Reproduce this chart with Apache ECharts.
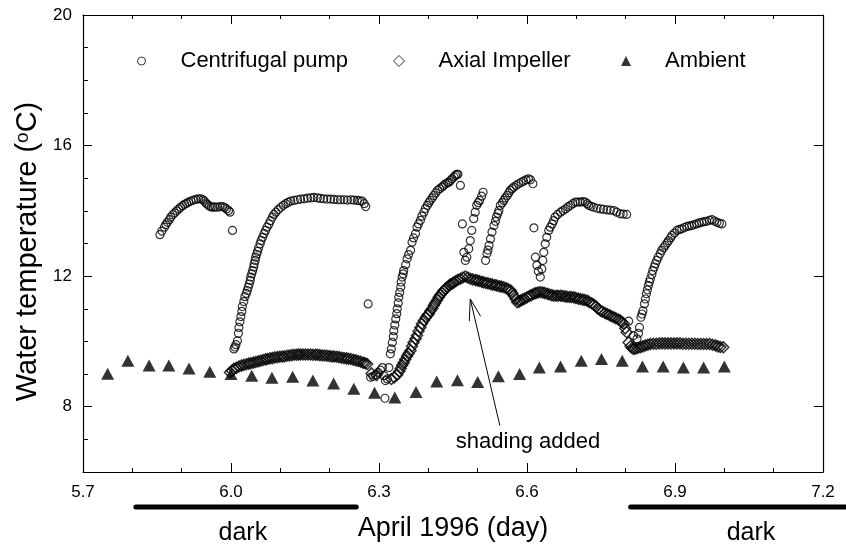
<!DOCTYPE html>
<html>
<head>
<meta charset="utf-8">
<script src="https://cdn.jsdelivr.net/npm/echarts@6/dist/echarts.min.js"></script>
<style>
  html, body { margin: 0; padding: 0; background: #fff; }
  #main { width: 846px; height: 547px; }
</style>
</head>
<body>
<div id="main"></div>
<script>
// Centrifugal pump runs, [day, temperature]
const pumpRun1 = [[5.856,13.27],[5.860,13.38],[5.865,13.50],[5.868,13.58],[5.871,13.65],[5.875,13.73],[5.878,13.81],[5.882,13.88],[5.886,13.94],[5.890,14.00],[5.894,14.06],[5.898,14.11],[5.902,14.16],[5.906,14.20],[5.910,14.23],[5.914,14.27],[5.919,14.30],[5.924,14.33],[5.929,14.35],[5.934,14.37],[5.939,14.37],[5.943,14.34],[5.946,14.30],[5.949,14.24],[5.952,14.20],[5.956,14.15],[5.960,14.12],[5.964,14.11],[5.968,14.12],[5.973,14.11],[5.978,14.13],[5.983,14.13],[5.987,14.10],[5.991,14.06],[5.995,14.01],[5.998,13.96],[6.003,13.40]];
const pumpRun2 = [[6.006,9.77],[6.008,9.83],[6.010,9.90],[6.013,10.02],[6.015,10.25],[6.016,10.43],[6.018,10.60],[6.020,10.76],[6.022,10.92],[6.023,11.07],[6.026,11.22],[6.028,11.37],[6.031,11.47],[6.033,11.56],[6.035,11.66],[6.037,11.76],[6.039,11.87],[6.040,11.97],[6.042,12.07],[6.044,12.17],[6.046,12.28],[6.047,12.38],[6.049,12.48],[6.050,12.58],[6.052,12.67],[6.054,12.76],[6.056,12.87],[6.059,12.99],[6.061,13.09],[6.064,13.19],[6.067,13.30],[6.070,13.40],[6.073,13.50],[6.077,13.60],[6.080,13.70],[6.084,13.81],[6.087,13.89],[6.091,13.96],[6.096,14.04],[6.101,14.11],[6.106,14.17],[6.111,14.22],[6.116,14.26],[6.121,14.30],[6.128,14.32],[6.135,14.34],[6.141,14.36],[6.148,14.37],[6.155,14.39],[6.162,14.40],[6.168,14.41],[6.175,14.40],[6.181,14.38],[6.188,14.37],[6.195,14.36],[6.202,14.36],[6.209,14.35],[6.216,14.34],[6.222,14.34],[6.229,14.34],[6.236,14.33],[6.243,14.34],[6.249,14.33],[6.256,14.32],[6.261,14.31],[6.266,14.30],[6.270,14.22],[6.273,14.13],[6.278,11.15]];
const pumpRun3 = [[6.283,8.90],[6.288,8.93],[6.293,8.98],[6.298,9.05],[6.303,9.12],[6.307,9.20],[6.310,8.95],[6.313,8.80],[6.312,8.26],[6.317,8.85],[6.320,9.20],[6.323,9.62],[6.325,9.77],[6.327,9.97],[6.329,10.15],[6.330,10.33],[6.332,10.50],[6.334,10.69],[6.336,10.85],[6.337,11.00],[6.339,11.18],[6.340,11.35],[6.342,11.50],[6.344,11.66],[6.345,11.82],[6.347,11.97],[6.349,12.07],[6.350,12.17],[6.354,12.35],[6.357,12.53],[6.360,12.66],[6.364,12.79],[6.367,13.04],[6.370,13.17],[6.374,13.30],[6.377,13.50],[6.380,13.60],[6.384,13.71],[6.387,13.84],[6.391,13.96],[6.394,14.07],[6.398,14.17],[6.401,14.25],[6.404,14.32],[6.408,14.40],[6.411,14.47],[6.415,14.55],[6.419,14.63],[6.423,14.68],[6.428,14.73],[6.431,14.78],[6.435,14.83],[6.439,14.86],[6.442,14.88],[6.445,14.93],[6.448,14.98],[6.452,15.04],[6.455,15.09],[6.458,15.12],[6.460,15.12],[6.465,14.78]];
const pumpRun4 = [[6.469,13.60],[6.472,12.73],[6.475,12.48],[6.478,12.58],[6.482,12.84],[6.485,13.09],[6.488,13.40],[6.492,13.76],[6.495,13.96],[6.498,14.17],[6.501,14.25],[6.504,14.32],[6.508,14.45],[6.511,14.57]];
const pumpRun5 = [[6.516,12.48],[6.519,12.69],[6.521,12.80],[6.523,12.94],[6.526,13.14],[6.529,13.35],[6.533,13.55],[6.536,13.68],[6.538,13.81],[6.541,13.92],[6.543,14.01],[6.546,14.17],[6.550,14.25],[6.553,14.32],[6.556,14.40],[6.560,14.47],[6.563,14.55],[6.566,14.63],[6.570,14.68],[6.573,14.73],[6.578,14.78],[6.583,14.83],[6.588,14.87],[6.593,14.91],[6.598,14.95],[6.603,14.98],[6.607,14.95],[6.612,14.83]];
const pumpRun6 = [[6.614,13.48],[6.617,12.58],[6.620,12.33],[6.623,12.15],[6.627,11.97],[6.630,12.22],[6.632,12.48],[6.634,12.73],[6.637,12.99],[6.640,13.19],[6.644,13.40],[6.647,13.50],[6.651,13.60],[6.654,13.70],[6.657,13.81],[6.662,13.89],[6.668,13.96],[6.673,14.01],[6.678,14.06],[6.683,14.12],[6.688,14.17],[6.693,14.22],[6.698,14.27],[6.703,14.27],[6.708,14.27],[6.713,14.28],[6.718,14.27],[6.722,14.22],[6.725,14.17],[6.730,14.14],[6.735,14.11],[6.742,14.08],[6.749,14.06],[6.755,14.05],[6.762,14.03],[6.769,14.02],[6.776,14.01],[6.782,13.96],[6.789,13.91],[6.795,13.90],[6.802,13.89]];
const pumpRun7 = [[6.806,10.62],[6.816,10.18],[6.823,10.08],[6.826,10.25],[6.828,10.43],[6.831,10.74],[6.833,10.84],[6.835,10.94],[6.838,11.15],[6.840,11.30],[6.842,11.46],[6.844,11.58],[6.846,11.71],[6.848,11.82],[6.850,11.92],[6.853,12.05],[6.855,12.17],[6.858,12.28],[6.860,12.38],[6.863,12.48],[6.866,12.58],[6.870,12.69],[6.873,12.79],[6.877,12.87],[6.880,12.94],[6.884,13.02],[6.887,13.09],[6.891,13.17],[6.894,13.25],[6.899,13.32],[6.904,13.40],[6.909,13.43],[6.914,13.45],[6.919,13.49],[6.924,13.52],[6.929,13.54],[6.934,13.55],[6.939,13.58],[6.944,13.60],[6.949,13.63],[6.954,13.65],[6.959,13.67],[6.964,13.68],[6.970,13.71],[6.975,13.73],[6.980,13.69],[6.985,13.65],[6.990,13.62],[6.995,13.60]];

// Axial impeller runs
const impRun1 = [[5.998,9.05],[6.002,9.10],[6.006,9.16],[6.011,9.19],[6.016,9.23],[6.021,9.26],[6.026,9.28],[6.031,9.30],[6.036,9.32],[6.040,9.33],[6.045,9.35],[6.050,9.37],[6.055,9.39],[6.060,9.41],[6.065,9.43],[6.070,9.45],[6.074,9.46],[6.079,9.48],[6.084,9.49],[6.089,9.51],[6.094,9.52],[6.099,9.53],[6.104,9.54],[6.108,9.54],[6.113,9.56],[6.118,9.57],[6.123,9.58],[6.128,9.59],[6.133,9.59],[6.137,9.60],[6.141,9.60],[6.146,9.60],[6.151,9.60],[6.156,9.60],[6.161,9.60],[6.166,9.59],[6.171,9.59],[6.175,9.59],[6.180,9.58],[6.185,9.57],[6.190,9.57],[6.195,9.56],[6.200,9.55],[6.205,9.54],[6.209,9.54],[6.214,9.53],[6.219,9.52],[6.224,9.50],[6.229,9.49],[6.234,9.48],[6.238,9.47],[6.243,9.46],[6.248,9.44],[6.253,9.42],[6.258,9.40],[6.263,9.38],[6.268,9.35],[6.272,9.33],[6.276,9.31]];
const impRun2 = [[6.285,9.02],[6.295,8.97],[6.325,8.85],[6.331,8.90],[6.337,8.98],[6.341,9.08],[6.344,9.17],[6.347,9.27],[6.350,9.35],[6.353,9.45],[6.357,9.55],[6.360,9.63],[6.364,9.72],[6.367,9.85],[6.370,9.97],[6.374,10.08],[6.377,10.18],[6.380,10.31],[6.384,10.43],[6.387,10.54],[6.391,10.64],[6.395,10.73],[6.398,10.80],[6.401,10.84],[6.404,10.93],[6.408,11.01],[6.411,11.10],[6.414,11.18],[6.418,11.27],[6.421,11.35],[6.424,11.42],[6.428,11.49],[6.431,11.56],[6.435,11.61],[6.438,11.66],[6.442,11.71],[6.445,11.75],[6.449,11.78],[6.452,11.81],[6.456,11.85],[6.460,11.89],[6.465,11.92],[6.470,11.96],[6.475,11.99],[6.480,11.96],[6.485,11.92],[6.490,11.90],[6.495,11.88],[6.499,11.87],[6.503,11.85],[6.508,11.83],[6.512,11.81],[6.517,11.79],[6.521,11.78],[6.526,11.76],[6.530,11.74],[6.535,11.73],[6.539,11.71],[6.544,11.69],[6.548,11.68],[6.553,11.66],[6.558,11.63],[6.562,11.60],[6.567,11.56],[6.570,11.48],[6.573,11.40],[6.577,11.30],[6.580,11.20],[6.584,11.22],[6.587,11.25],[6.591,11.28],[6.595,11.31],[6.600,11.35],[6.605,11.39],[6.609,11.42],[6.614,11.46],[6.618,11.48],[6.622,11.50],[6.627,11.51],[6.632,11.50],[6.636,11.48],[6.641,11.46],[6.645,11.44],[6.650,11.42],[6.654,11.40],[6.659,11.40],[6.663,11.40],[6.668,11.40],[6.672,11.39],[6.677,11.38],[6.681,11.37],[6.686,11.36],[6.690,11.36],[6.695,11.35],[6.699,11.33],[6.704,11.31],[6.708,11.30],[6.713,11.28],[6.717,11.27],[6.722,11.25],[6.726,11.21],[6.731,11.17],[6.735,11.13],[6.740,11.07],[6.744,11.00],[6.749,10.94],[6.753,10.91],[6.758,10.87],[6.762,10.84],[6.767,10.81],[6.771,10.77],[6.776,10.74],[6.780,10.71],[6.785,10.67],[6.789,10.64],[6.793,10.59],[6.796,10.54],[6.799,10.40],[6.802,10.28],[6.806,9.97]];
const impRun3 = [[6.810,9.85],[6.813,9.80],[6.816,9.77],[6.820,9.78],[6.825,9.80],[6.830,9.82],[6.835,9.85],[6.840,9.88],[6.845,9.90],[6.850,9.92],[6.856,9.93],[6.862,9.93],[6.868,9.94],[6.874,9.94],[6.880,9.94],[6.886,9.94],[6.892,9.94],[6.898,9.94],[6.904,9.94],[6.910,9.94],[6.916,9.93],[6.922,9.93],[6.928,9.93],[6.934,9.93],[6.940,9.93],[6.946,9.92],[6.952,9.92],[6.958,9.92],[6.964,9.92],[6.970,9.92],[6.976,9.90],[6.982,9.88],[6.987,9.85],[6.992,9.83],[6.998,9.82]];

// Ambient, hourly
const ambDay = [5.750,5.791,5.834,5.874,5.915,5.957,6.000,6.042,6.083,6.125,6.166,6.208,6.249,6.291,6.332,6.375,6.417,6.459,6.500,6.542,6.585,6.625,6.668,6.710,6.751,6.793,6.834,6.876,6.917,6.958,7.000];
const ambTemp = [9.01,9.41,9.26,9.26,9.17,9.07,9.00,8.95,8.89,8.92,8.80,8.71,8.55,8.43,8.28,8.45,8.77,8.81,8.76,8.93,9.00,9.20,9.23,9.41,9.46,9.41,9.23,9.23,9.20,9.20,9.23];

const yLabelValues = [8, 12, 16, 20];
const darkPeriods = [[5.807, 6.254], [6.810, 7.300]];
const darkLabelDays = [6.024, 7.054];
// arrow: tail, tip, arrowhead arms
const arrowTail = [6.545, 7.42];
const arrowTip = [6.485, 11.30];
const arrowArms = [[6.483, 10.62], [6.506, 10.77]];

const FONT = "Liberation Sans";
const pumpData = [].concat(pumpRun1, pumpRun2, pumpRun3, pumpRun4, pumpRun5, pumpRun6, pumpRun7);
const impData = [].concat(impRun1, impRun2, impRun3);
const ambData = ambDay.map((d, i) => [d, ambTemp[i]]);

const chart = echarts.init(document.getElementById("main"));

const xCommon = {
  type: "value",
  min: 5.7,
  max: 7.2,
  interval: 0.3,
  axisLine: { show: true, onZero: false, lineStyle: { color: "#000", width: 1.2 } },
  axisTick: { show: true, inside: true, length: 9, lineStyle: { color: "#000" } },
  minorTick: { show: true, splitNumber: 3, length: 4, lineStyle: { color: "#000" } },
  splitLine: { show: false },
};

const option = {
  animation: false,
  backgroundColor: "#fff",
  grid: { left: 83, right: 23, top: 15, bottom: 75 },
  legend: [
    {
      data: ["Centrifugal pump"], left: 137, top: 50, padding: 0,
      itemWidth: 8, itemHeight: 8, selectedMode: false,
      itemStyle: { color: "#fff", borderColor: "#000", borderWidth: 1 },
      textStyle: { fontSize: 22, fontFamily: FONT, color: "#000", padding: [0, 0, 0, 30] },
    },
    {
      data: ["Axial Impeller"], left: 393, top: 50, padding: 0,
      itemWidth: 11, itemHeight: 11, selectedMode: false,
      itemStyle: { color: "#fff", borderColor: "#000", borderWidth: 1 },
      textStyle: { fontSize: 22, fontFamily: FONT, color: "#000", padding: [0, 0, 0, 29] },
    },
    {
      data: ["Ambient"], left: 621, top: 50, padding: 0,
      itemWidth: 10, itemHeight: 10, selectedMode: false,
      itemStyle: { color: "#000" },
      textStyle: { fontSize: 22, fontFamily: FONT, color: "#000", padding: [0, 0, 0, 29] },
    },
  ],
  xAxis: [
    Object.assign({}, xCommon, {
      position: "bottom",
      name: "April 1996 (day)",
      nameLocation: "middle",
      nameGap: 43,
      nameTextStyle: { fontSize: 27, fontFamily: FONT, color: "#000" },
      axisLabel: {
        show: true, margin: 12, fontSize: 17, fontFamily: FONT, color: "#000",
        showMinLabel: true, showMaxLabel: true,
        formatter: (v) => v.toFixed(1),
      },
    }),
    Object.assign({}, xCommon, { position: "top", axisLabel: { show: false } }),
  ],
  yAxis: [
    {
      type: "value", min: 6, max: 20, interval: 1, position: "left",
      name: "Water temperature ({sup|o}C)",
      nameLocation: "middle",
      nameGap: 41,
      nameTextStyle: {
        fontSize: 29, fontFamily: FONT, color: "#000", padding: [0, 16, 0, 0],
        rich: { sup: { fontSize: 19, fontFamily: FONT, color: "#000", verticalAlign: "top" } },
      },
      axisLine: { show: true, onZero: false, lineStyle: { color: "#000", width: 1.2 } },
      axisTick: { show: true, inside: true, length: 5, lineStyle: { color: "#000" } },
      axisLabel: {
        show: true, margin: 11, fontSize: 17, fontFamily: FONT, color: "#000",
        formatter: (v) => (yLabelValues.indexOf(v) >= 0 ? String(v) : ""),
      },
      splitLine: { show: false },
    },
    {
      type: "value", min: 6, max: 20, position: "left",
      axisLine: { show: false },
      axisTick: { show: true, inside: true, length: 9, customValues: yLabelValues, lineStyle: { color: "#000" } },
      axisLabel: { show: false },
      splitLine: { show: false },
    },
    {
      type: "value", min: 6, max: 20, position: "right",
      axisLine: { show: true, onZero: false, lineStyle: { color: "#000", width: 1.2 } },
      axisTick: { show: true, inside: true, length: 9, customValues: yLabelValues, lineStyle: { color: "#000" } },
      axisLabel: { show: false },
      splitLine: { show: false },
    },
  ],
  series: [
    {
      name: "Centrifugal pump",
      type: "scatter",
      symbol: "circle",
      symbolSize: 8,
      itemStyle: { color: "rgba(0,0,0,0)", borderColor: "#000", borderWidth: 1.2 },
      data: pumpData,
      z: 3,
    },
    {
      name: "Axial Impeller",
      type: "scatter",
      symbol: "diamond",
      symbolSize: 11,
      itemStyle: { color: "rgba(0,0,0,0)", borderColor: "#000", borderWidth: 1.5 },
      data: impData,
      z: 2,
    },
    {
      name: "Ambient",
      type: "scatter",
      symbol: "triangle",
      symbolSize: [13, 12],
      itemStyle: { color: "#000" },
      data: ambData,
      z: 4,
      markLine: {
        silent: true,
        symbol: ["none", "none"],
        label: { show: false },
        lineStyle: { color: "#000", width: 1, type: "solid" },
        data: [
          [{ coord: arrowTail }, { coord: arrowTip }],
          [{ coord: arrowArms[0] }, { coord: arrowTip }],
          [{ coord: arrowArms[1] }, { coord: arrowTip }],
        ],
      },
    },
  ],
};

chart.setOption(option);

// bars marking the dark periods and the annotation text, placed via the x scale
const xPix = (d) => chart.convertToPixel({ xAxisIndex: 0 }, d);
const barY = 507;
const graphics = [];
darkPeriods.forEach((p) => {
  graphics.push({
    type: "line",
    shape: { x1: xPix(p[0]), y1: barY, x2: xPix(p[1]), y2: barY },
    style: { stroke: "#000", lineWidth: 5, lineCap: "round" },
  });
});
darkLabelDays.forEach((d) => {
  graphics.push({
    type: "text",
    x: xPix(d),
    y: 533,
    style: {
      text: "dark", fill: "#000", fontSize: 25, fontFamily: FONT,
      align: "center", verticalAlign: "middle", textAlign: "center", textVerticalAlign: "middle",
    },
  });
});
graphics.push({
  type: "text",
  x: xPix(6.602),
  y: 442,
  style: {
    text: "shading added", fill: "#000", fontSize: 22, fontFamily: FONT,
    align: "center", verticalAlign: "middle", textAlign: "center", textVerticalAlign: "middle",
  },
});
chart.setOption({ graphic: graphics });
</script>
</body>
</html>
